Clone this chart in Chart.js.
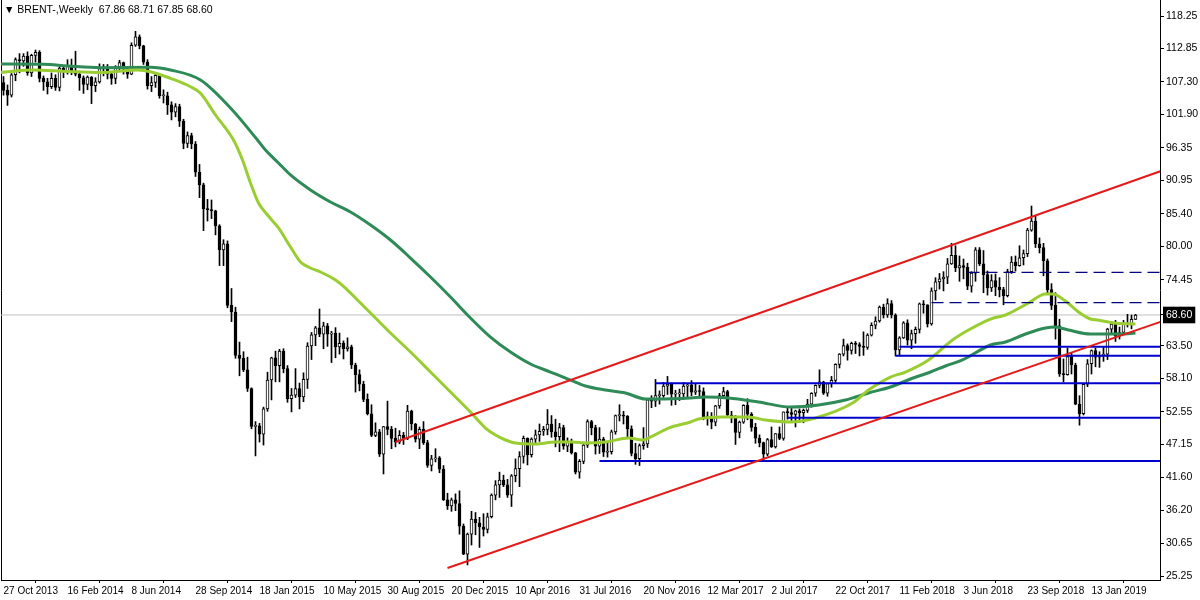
<!DOCTYPE html>
<html><head><meta charset="utf-8">
<script src="https://cdn.jsdelivr.net/npm/chart.js@4.4.1/dist/chart.umd.min.js"></script>
<style>
html,body{margin:0;padding:0;background:#fff;}
#wrap{position:relative;width:1200px;height:600px;}
#hdr{position:absolute;left:4px;top:3px;font:10.5px "Liberation Sans",sans-serif;color:#000;white-space:pre;}
</style></head><body>
<div id="wrap"><canvas id="c" width="1200" height="600"></canvas><div id="hdr">▼ BRENT-,Weekly  67.86 68.71 67.85 68.60</div></div>
<script>
// ---- data (weekly bars, bar 0 = week of 27 Oct 2013) ----
const tickBars = [0,16,32,48,64,80,96,112,128,144,160,176,192,208,224,240,256,272];
const dateLabels = ['27 Oct 2013','16 Feb 2014','8 Jun 2014','28 Sep 2014','18 Jan 2015','10 May 2015','30 Aug 2015','20 Dec 2015','10 Apr 2016','31 Jul 2016','20 Nov 2016','12 Mar 2017','2 Jul 2017','22 Oct 2017','11 Feb 2018','3 Jun 2018','23 Sep 2018','13 Jan 2019'];
const priceTicks = [118.25,112.85,107.30,101.90,96.35,90.95,85.40,80.00,74.45,68.60,63.50,58.10,52.55,47.15,41.60,36.20,30.65,25.25];
const lastPrice = 68.60;

const opens = [107.2,105.9,105.1,108.5,111.0,110.8,111.6,108.8,111.7,112.2,
107.9,107.3,106.5,107.9,106.4,109.6,109.1,110.0,109.1,108.6,
108.0,106.9,108.1,106.7,107.3,109.5,109.6,108.6,107.9,109.8,
110.5,109.4,108.6,113.4,114.8,113.3,110.6,106.7,107.2,108.4,
105.0,105.0,103.5,102.3,103.2,100.8,97.1,98.4,97.0,92.3,
90.2,86.2,86.1,85.9,83.4,79.4,80.4,70.2,69.1,61.9,
61.4,59.5,56.4,50.1,50.2,48.8,53.0,57.8,61.5,60.2,
62.6,59.7,54.7,55.3,56.4,55.0,57.9,63.45,65.3,66.45,
65.4,66.8,65.4,65.6,63.3,63.9,63.0,63.3,60.3,58.7,
57.1,54.6,52.2,48.6,49.2,45.5,50.05,49.6,48.1,47.5,
48.6,48.1,52.65,50.5,48.0,49.6,47.4,43.6,44.7,44.9,
43.0,37.9,36.9,37.9,37.3,33.55,28.9,32.2,34.7,34.1,
33.4,33.0,35.1,38.7,40.4,41.2,40.4,38.7,41.9,43.1,
45.1,48.1,45.4,48.0,48.7,49.3,49.6,50.5,49.2,48.4,
49.9,46.8,47.6,45.7,42.5,44.3,47.0,50.9,49.9,46.8,
48.0,45.8,45.9,49.2,51.9,51.95,51.8,49.7,45.6,44.75,
46.9,47.2,54.5,54.3,55.2,55.2,56.8,57.1,55.45,55.5,
55.5,56.8,57.0,55.8,56.0,55.9,51.4,51.8,50.8,53.5,
55.2,55.9,52.0,51.7,49.1,50.8,53.6,52.15,49.95,48.15,
47.4,45.5,47.9,46.7,48.9,48.1,52.5,52.4,52.1,52.7,
52.4,52.75,53.8,55.6,56.9,57.5,55.6,57.2,57.75,60.4,
62.1,63.5,62.7,63.9,63.7,63.4,63.2,65.25,66.9,67.6,
69.9,68.6,70.5,68.6,62.8,64.8,67.3,64.4,65.5,66.2,
70.45,70.3,67.1,72.6,74.1,74.6,74.9,77.1,78.5,76.4,
76.8,76.5,73.4,75.55,79.4,77.1,75.3,73.1,74.3,73.2,
72.8,71.8,75.8,77.4,76.8,78.1,78.8,82.7,84.2,80.4,
79.8,77.6,72.8,70.2,66.8,58.8,58.7,61.7,60.3,53.8,
52.2,57.1,60.5,62.7,61.6,61.9,62.1,66.25,67.1,65.1,
65.7,67.2,67.0,67.86];

const highs = [108.2,106.8,108.7,111.3,112.0,112.0,112.3,111.9,112.6,112.5,
108.3,107.9,108.8,108.5,109.8,110.0,111.0,111.1,112.4,109.0,
108.3,108.3,108.2,108.0,110.3,110.2,110.2,108.9,110.0,110.9,
110.6,109.7,113.8,115.7,115.1,113.4,111.0,108.2,108.6,108.6,
106.0,105.6,104.0,103.7,103.6,101.1,99.0,98.8,97.4,93.6,
90.5,87.8,87.7,86.0,83.6,81.1,80.9,73.0,69.9,64.1,
62.5,61.6,56.5,50.9,50.6,53.3,59.1,61.6,62.6,62.9,
63.0,60.2,56.4,59.7,57.3,59.0,64.0,65.7,66.7,69.6,
67.4,67.2,65.9,66.5,65.6,64.3,64.8,63.6,60.6,59.5,
57.6,55.5,53.7,50.7,49.6,50.1,54.3,50.1,49.8,49.4,
49.1,53.6,52.8,50.6,50.0,50.9,47.8,45.3,46.4,45.1,
43.6,39.0,38.2,38.9,39.4,33.9,32.4,36.0,35.8,35.0,
35.6,35.7,38.9,41.1,42.5,42.0,41.3,42.1,44.7,45.9,
48.5,48.2,48.2,49.5,50.5,50.1,52.9,51.9,51.3,50.6,
50.3,48.2,48.0,45.8,44.6,47.5,51.2,51.1,50.3,49.9,
48.3,47.6,49.5,52.0,53.7,52.6,51.9,50.2,47.3,47.2,
49.9,54.5,55.2,57.9,56.0,57.4,58.4,57.3,56.1,56.3,
57.4,57.2,57.7,57.1,56.9,56.5,52.5,52.4,53.6,55.6,
56.6,56.1,52.6,51.9,51.0,53.7,54.7,52.4,50.6,48.7,
47.5,48.1,50.0,48.9,50.0,52.5,53.3,53.2,52.8,53.0,
53.0,54.6,55.7,57.0,59.5,57.6,57.3,58.4,60.5,62.2,
64.6,63.8,64.1,64.2,64.0,65.8,65.5,67.3,68.3,70.1,
70.4,71.3,71.0,68.8,65.0,67.5,67.8,66.1,66.6,70.6,
71.0,70.3,73.1,74.8,75.5,75.8,78.0,80.5,80.1,78.4,
77.9,77.2,75.8,79.8,79.8,79.3,75.9,75.3,75.4,74.8,
73.2,76.2,78.3,78.4,80.1,79.4,83.0,86.7,85.1,81.4,
80.5,77.9,73.8,72.3,67.9,61.3,63.1,62.4,60.6,55.2,
57.3,61.2,62.8,63.1,62.5,63.2,66.4,67.5,67.7,66.6,
67.7,68.7,68.6,68.71];

const lows = [105.1,103.4,104.8,107.5,108.8,109.9,108.4,108.2,110.6,107.3,
105.9,105.3,106.2,105.9,105.8,108.0,108.6,108.5,108.3,105.9,
105.4,106.0,103.7,105.7,107.1,108.3,107.8,106.9,107.0,109.3,
108.6,107.9,108.5,113.2,112.8,110.2,106.1,105.7,106.4,104.6,
103.8,101.9,101.0,101.5,99.9,96.2,96.4,96.2,91.6,88.1,
82.6,84.2,84.6,81.9,76.8,76.8,69.8,67.5,61.4,58.5,
59.2,55.9,49.7,45.2,47.5,47.0,52.6,54.5,57.5,57.5,
59.0,54.1,52.5,54.9,53.0,54.2,56.4,61.2,63.5,65.0,
63.0,63.4,60.7,61.5,62.1,61.3,62.6,59.7,55.8,56.0,
54.2,52.0,48.4,48.4,45.1,42.2,48.7,46.4,46.7,47.2,
47.1,47.9,49.5,47.5,46.4,47.1,43.3,42.7,44.2,42.4,
37.8,36.3,36.0,36.1,32.2,28.8,27.1,30.4,32.1,30.0,
31.9,32.4,34.9,37.9,38.3,40.1,38.3,36.8,40.9,40.1,
44.0,43.7,45.0,47.4,47.6,48.6,48.7,48.3,46.7,45.9,
46.3,45.9,45.5,42.2,41.5,43.9,46.6,48.7,45.5,45.6,
45.1,45.0,45.5,48.8,51.0,50.5,48.3,45.2,43.8,43.6,
46.3,46.6,53.2,53.4,53.8,54.9,55.4,53.6,53.7,54.4,
54.6,54.7,55.2,55.4,55.2,51.2,50.3,49.7,50.2,53.1,
54.7,51.8,50.7,47.1,48.2,50.6,51.2,49.3,47.3,46.7,
44.4,45.2,46.6,46.5,47.9,47.8,51.3,50.8,50.0,50.8,
50.7,52.4,53.3,55.1,56.5,55.4,55.1,56.6,57.4,59.8,
61.8,61.1,62.1,62.2,61.8,61.9,62.9,65.1,66.3,67.4,
68.1,68.2,68.1,61.8,61.8,64.7,63.6,63.0,63.9,65.6,
68.9,66.6,66.9,71.1,72.9,72.6,73.8,77.0,75.8,74.2,
74.6,72.8,72.4,74.2,76.8,72.3,71.9,72.5,71.8,71.6,
70.3,71.6,75.5,75.9,76.7,76.9,78.3,82.5,79.8,78.9,
75.1,72.1,69.5,64.6,58.4,57.5,58.6,58.8,53.7,50.3,
52.0,56.7,58.8,60.0,59.9,60.9,61.2,65.6,64.2,64.6,
65.5,66.6,66.3,67.85];

const closes = [105.9,105.1,108.5,111.0,110.8,111.6,108.8,111.7,112.2,107.9,
107.3,106.5,107.9,106.4,109.6,109.1,110.0,109.1,108.6,108.0,
106.9,108.1,106.7,107.3,109.5,109.6,108.6,107.9,109.8,110.5,
109.4,108.6,113.4,114.8,113.3,110.6,106.7,107.2,108.4,105.0,
105.0,103.5,102.3,103.2,100.8,97.1,98.4,97.0,92.3,90.2,
86.2,86.1,85.9,83.4,79.4,80.4,70.2,69.1,61.9,61.4,
59.5,56.4,50.1,50.2,48.8,53.0,57.8,61.5,60.2,62.6,
59.7,54.7,55.3,56.4,55.0,57.9,63.45,65.3,66.45,65.4,
66.8,65.4,65.6,63.3,63.9,63.0,63.3,60.3,58.7,57.1,
54.6,52.2,48.6,49.2,45.5,50.05,49.6,48.1,47.5,48.6,
48.1,52.65,50.5,48.0,49.6,47.4,43.6,44.7,44.9,43.0,
37.9,36.9,37.9,37.3,33.55,28.9,32.2,34.7,34.1,33.4,
33.0,35.1,38.7,40.4,41.2,40.4,38.7,41.9,43.1,45.1,
48.1,45.4,48.0,48.7,49.3,49.6,50.5,49.2,48.4,49.9,
46.8,47.6,45.7,42.5,44.3,47.0,50.9,49.9,46.8,48.0,
45.8,45.9,49.2,51.9,51.95,51.8,49.7,45.6,44.75,46.9,
47.2,54.5,54.3,55.2,55.2,56.8,57.1,55.45,55.5,55.5,
56.8,57.0,55.8,56.0,55.9,51.4,51.8,50.8,53.5,55.2,
55.9,52.0,51.7,49.1,50.8,53.6,52.15,49.95,48.15,47.4,
45.5,47.9,46.7,48.9,48.1,52.5,52.4,52.1,52.7,52.4,
52.75,53.8,55.6,56.9,57.5,55.6,57.2,57.75,60.4,62.1,
63.5,62.7,63.9,63.7,63.4,63.2,65.25,66.9,67.6,69.9,
68.6,70.5,68.6,62.8,64.8,67.3,64.4,65.5,66.2,70.45,
70.3,67.1,72.6,74.1,74.6,74.9,77.1,78.5,76.4,76.8,
76.5,73.4,75.55,79.4,77.1,75.3,73.1,74.3,73.2,72.8,
71.8,75.8,77.4,76.8,78.1,78.8,82.7,84.2,80.4,79.8,
77.6,72.8,70.2,66.8,58.8,58.7,61.7,60.3,53.8,52.2,
57.1,60.5,62.7,61.6,61.9,62.1,66.25,67.1,65.1,65.7,
67.2,67.0,67.86,68.60];

// moving averages (bar position, value)
const fastMaBars = [-1,7.5,16,24.25,33.5,36.75,41.75,46.75,49.25,53,57.5,59.75,61.75,63.75,66,68.75,71.75,74.25,76.75,79.25,83,85.5,88.5,93,96.75,101.75,106.75,111.25,116.25,120.5,123,125.5,128,133,138,142.25,145.5,150.5,156.25,159.75,162.25,166.25,171.75,173.75,179.75,186.25,190.5,196.75,203,212.25,216.25,221.75,225.5,231.25,237.25,241.25,246.75,250.5,256.25,260.5,262.25,265.5,268.75,271.75,273.5,277.5,283];
const fastMaVals = [108.87,109.28,109.03,108.87,109.28,109.0,107.9,106.51,105.41,101.81,97.66,94.34,90.52,87.2,85.2,83.05,79.89,77.4,76.4,75.74,74.41,73.08,71.09,68.1,65.61,62.45,59.13,56.14,52.82,49.83,48.67,47.84,47.34,47.17,47.51,47.51,47.34,47.51,48.17,47.84,48.5,49.83,50.83,51.33,51.66,51.66,51.16,50.83,51.5,53.98,56.14,58.3,59.13,61.13,64.45,66.11,67.93,68.6,70.59,72.09,72.09,70.92,69.1,67.93,67.77,67.27,67.1];
const slowMaBars = [-1,10,16,24.25,36.75,41.75,49.25,56.75,63.5,65.5,68.75,71.75,76.75,81.75,86.75,91.75,96.75,101.75,106.75,111.75,116.75,121.75,126.75,131.75,136.75,141.75,145.5,150.5,155.5,160.5,163.75,171.75,175.5,181.25,188.75,196.75,203.75,210.5,216.25,221.75,226.75,231.75,235.5,239.75,246.75,250.5,255.5,260.5,263,266.25,271.75,274.25,279.25,283];
const slowMaVals = [110.28,110.23,109.95,109.66,109.73,109.28,107.62,102.97,97.66,96.0,93.84,91.85,89.36,87.36,85.7,83.54,81.05,78.06,74.91,71.59,68.1,64.94,62.45,60.46,59.13,57.8,56.81,56.14,55.65,54.65,54.65,54.82,54.98,54.82,54.15,53.32,53.65,54.48,55.65,56.64,57.97,59.13,60.13,61.13,63.62,64.12,65.44,66.44,66.6,66.11,65.44,65.44,65.44,65.61];

// drawn objects
const upperTrendBars = [98, 300], upperTrendVals = [47.51, 95.0];
const lowerTrendBars = [111, 300], lowerTrendVals = [26.59, 69.93];
const levelVals = [44.35, 57.26, 51.55, 63.34, 61.84];
const levelStartBars = [149, 163, 196, 224, 223];
const dashLevelVals = [75.69, 70.64];
const dashLevelStartBars = [241, 232];
const lineEndBar = 300;

// ---- layout ----
const W = 1200, H = 600, axisW = 40, axisH = 20, leftW = 1;
const pxPerBar = 4, pxPerUnit = 6.022;
const plotR = W - axisW, plotB = H - axisH;
const xMin = -(3.5 - leftW) / pxPerBar;
const xMax = xMin + (plotR - leftW) / pxPerBar;
const yMax = priceTicks[0] + 16 / pxPerUnit;
const yMin = yMax - plotB / pxPerUnit;
const noPad = s => { s.paddingTop = 0; s.paddingBottom = 0; s.paddingLeft = 0; s.paddingRight = 0; };

const idx = closes.map((_, i) => i);
const bodies = idx.map(i => ({x: i, y: [Math.min(opens[i], closes[i]), Math.max(opens[i], closes[i])]}));
const wicks = idx.map(i => ({x: i, y: [lows[i], highs[i]]}));
const bodyFill = idx.map(i => closes[i] >= opens[i] ? '#ffffff' : '#000000');
const pts = (bs, vs) => bs.map((b, i) => ({x: b, y: vs[i]}));

const datasets = [];
datasets.push({type: 'line', data: [{x: xMin, y: lastPrice}, {x: xMax, y: lastPrice}], borderColor: '#c0c0c0', borderWidth: 1, pointRadius: 0, order: 20});
datasets.push({type: 'bar', data: wicks, backgroundColor: '#000', borderWidth: 0, barThickness: 1, grouped: false, minBarLength: 1, order: 11});
datasets.push({type: 'bar', data: bodies, backgroundColor: bodyFill, borderColor: '#000', borderWidth: 1, borderSkipped: false, barThickness: 3, grouped: false, minBarLength: 1, order: 10});
datasets.push({type: 'line', data: pts(slowMaBars, slowMaVals), borderColor: '#2e8b57', borderWidth: 3, pointRadius: 0, cubicInterpolationMode: 'monotone', order: 6});
datasets.push({type: 'line', data: pts(fastMaBars, fastMaVals), borderColor: '#9acd32', borderWidth: 3, pointRadius: 0, cubicInterpolationMode: 'monotone', order: 5});
levelVals.forEach((v, k) => datasets.push({type: 'line', data: [{x: levelStartBars[k], y: v}, {x: lineEndBar, y: v}], borderColor: '#0000cd', borderWidth: 2, pointRadius: 0, order: 3}));
dashLevelVals.forEach((v, k) => datasets.push({type: 'line', data: [{x: dashLevelStartBars[k], y: v}, {x: lineEndBar, y: v}], borderColor: '#000080', borderWidth: 1.3, borderDash: [12, 6], pointRadius: 0, order: 3}));
datasets.push({type: 'line', data: pts(upperTrendBars, upperTrendVals), borderColor: '#e31b1b', borderWidth: 2, pointRadius: 0, order: 2});
datasets.push({type: 'line', data: pts(lowerTrendBars, lowerTrendVals), borderColor: '#e31b1b', borderWidth: 2, pointRadius: 0, order: 2});

Chart.defaults.font.family = '"Liberation Sans", sans-serif';
Chart.defaults.font.size = 10;
Chart.defaults.color = '#000';

new Chart(document.getElementById('c'), {
  type: 'bar',
  data: {datasets},
  options: {
    responsive: false, animation: false, events: [],
    layout: {padding: 0, autoPadding: false},
    plugins: {legend: {display: false}, tooltip: {enabled: false}},
    scales: {
      x: {
        type: 'linear', position: 'bottom', min: xMin, max: xMax, offset: false,
        afterBuildTicks: s => { s.ticks = tickBars.map(v => ({value: v})); },
        afterFit: s => { s.height = axisH; noPad(s); },
        ticks: {align: 'start', maxRotation: 0, autoSkip: false, padding: 2, color: '#000',
          font: {size: 10}, callback: (v, i) => dateLabels[i]},
        grid: {drawOnChartArea: false, drawTicks: true, tickLength: 3, color: '#000'},
        border: {display: true, color: '#000'}
      },
      y: {
        type: 'linear', position: 'right', min: yMin, max: yMax,
        afterBuildTicks: s => { s.ticks = priceTicks.map(v => ({value: v})); },
        afterFit: s => { s.width = axisW; noPad(s); },
        ticks: {padding: 2, autoSkip: false, font: {size: 10.5},
          callback: v => v.toFixed(2),
          color: c => (c.tick && c.tick.value === lastPrice) ? '#fff' : '#000',
          showLabelBackdrop: true,
          backdropColor: c => (c.tick && c.tick.value === lastPrice) ? '#000' : 'rgba(0,0,0,0)',
          backdropPadding: {x: 3, y: 2}},
        grid: {drawOnChartArea: false, drawTicks: true, tickLength: 4, color: '#000'},
        border: {display: true, color: '#000'}
      },
      yl: {
        type: 'linear', position: 'left', min: yMin, max: yMax, display: true,
        afterFit: s => { s.width = leftW; noPad(s); },
        ticks: {display: false},
        grid: {display: false, drawTicks: false},
        border: {display: true, color: '#000'}
      }
    }
  }
});
</script>
</body></html>
